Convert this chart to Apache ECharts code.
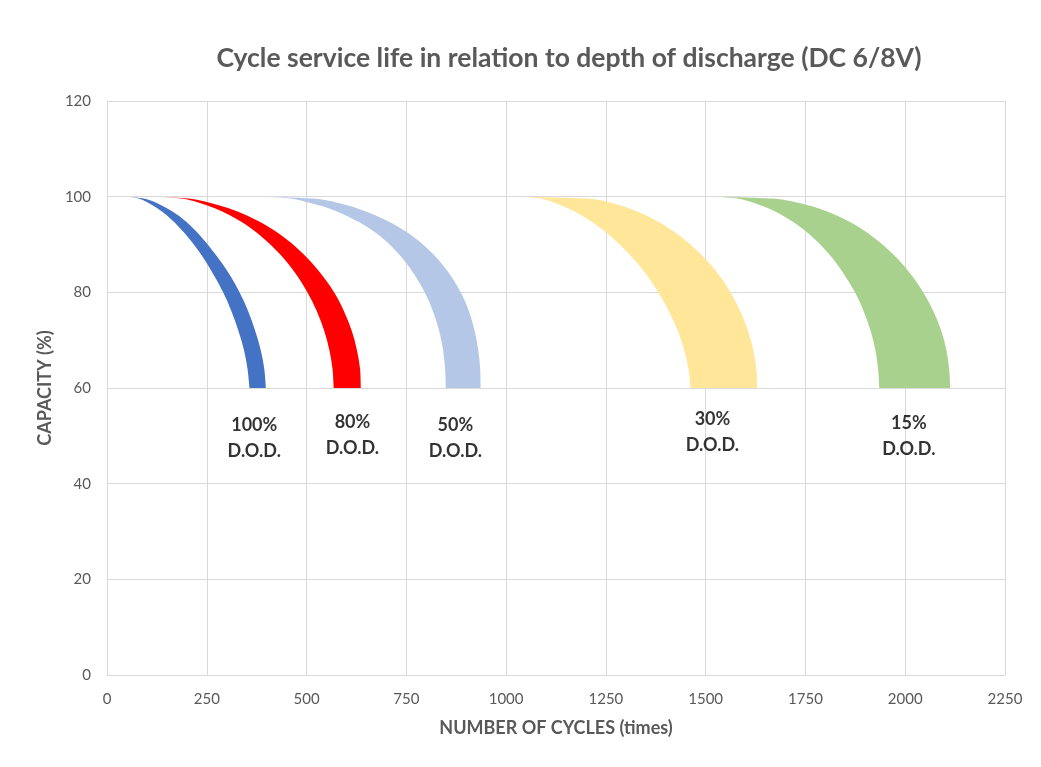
<!DOCTYPE html>
<html><head><meta charset="utf-8">
<script src="https://cdn.jsdelivr.net/npm/echarts@6/dist/echarts.min.js"></script>
<style>html,body{margin:0;padding:0;background:#fff}#c{width:1041px;height:767px}</style>
</head><body><div id="c"></div>
<script>
// Capacity levels (%) at which each band edge is sampled
const capacityLevels = [100, 99.6, 98.8, 97.6, 96, 94, 91.2, 88, 84, 80, 76, 72, 68, 64, 60];
// Number of cycles along outer (right) and inner (left) edges of each band
const dod100Outer = [57, 92, 122, 150, 180, 208, 240, 271, 305, 332, 354, 371, 385, 394, 398];
const dod100Inner = [57, 80, 102, 126, 151, 176, 206, 235, 265, 291, 312, 329, 343, 352, 357];
const dod80Outer  = [133, 204, 255, 305, 352, 398, 448, 492, 535, 569, 594, 613, 626, 634, 636];
const dod80Inner  = [133, 187, 229, 270, 310, 350, 393, 433, 472, 502, 526, 544, 557, 565, 568];
const dod50Outer  = [401, 515, 575, 626, 675, 723, 774, 817, 857, 886, 907, 921, 930, 935, 936];
const dod50Inner  = [401, 460, 505, 555, 600, 645, 692, 731, 768, 796, 817, 832, 842, 847, 849];
const dod30Outer  = [1048, 1200, 1260, 1307, 1353, 1396, 1444, 1487, 1530, 1562, 1587, 1606, 1619, 1627, 1629];
const dod30Inner  = [1048, 1086, 1120, 1155, 1191, 1227, 1269, 1308, 1349, 1381, 1408, 1430, 1446, 1457, 1462];
const dod15Outer  = [1529, 1665, 1728, 1782, 1830, 1876, 1925, 1969, 2012, 2045, 2071, 2090, 2103, 2110, 2113];
const dod15Inner  = [1529, 1579, 1618, 1657, 1694, 1731, 1772, 1809, 1845, 1874, 1896, 1913, 1925, 1932, 1935];

// Labels
const labelTexts = ['100%\nD.O.D.', '80%\nD.O.D.', '50%\nD.O.D.', '30%\nD.O.D.', '15%\nD.O.D.'];
const labelX = [369, 615, 873, 1517, 2009];
const labelY = [49.6, 50.2, 49.5, 50.8, 50.0];

const xTicks = [0, 250, 500, 750, 1000, 1250, 1500, 1750, 2000, 2250];
const yTicks = [0, 20, 40, 60, 80, 100, 120];

const bands = [
  {name: '100% D.O.D.', outer: dod100Outer, inner: dod100Inner, color: '#4472C4'},
  {name: '80% D.O.D.',  outer: dod80Outer,  inner: dod80Inner,  color: '#FF0000'},
  {name: '50% D.O.D.',  outer: dod50Outer,  inner: dod50Inner,  color: '#B4C7E7'},
  {name: '30% D.O.D.',  outer: dod30Outer,  inner: dod30Inner,  color: '#FFE699'},
  {name: '15% D.O.D.',  outer: dod15Outer,  inner: dod15Inner,  color: '#A9D18E'}
];

const FONT = 'Lato';

// Smooth curve (Catmull-Rom -> cubic Bezier) through pixel points
function curveCmds(pts) {
  let d = '';
  const n = pts.length;
  for (let i = 0; i < n - 1; i++) {
    const p0 = pts[i > 0 ? i - 1 : i], p1 = pts[i], p2 = pts[i + 1], p3 = pts[i + 2 < n ? i + 2 : i + 1];
    const c1 = [p1[0] + (p2[0] - p0[0]) / 6, p1[1] + (p2[1] - p0[1]) / 6];
    const c2 = [p2[0] - (p3[0] - p1[0]) / 6, p2[1] - (p3[1] - p1[1]) / 6];
    d += 'C' + c1[0].toFixed(2) + ',' + c1[1].toFixed(2) + ' ' + c2[0].toFixed(2) + ',' + c2[1].toFixed(2) + ' ' + p2[0].toFixed(2) + ',' + p2[1].toFixed(2);
  }
  return d;
}

function bandSeries(b) {
  return {
    type: 'custom',
    name: b.name,
    coordinateSystem: 'cartesian2d',
    data: [[b.outer[0], capacityLevels[0]]],
    clip: true,
    renderItem: function (params, api) {
      const outer = capacityLevels.map((c, i) => api.coord([b.outer[i], c]));
      const inner = capacityLevels.map((c, i) => api.coord([b.inner[i], c])).reverse();
      const d = 'M' + outer[0][0] + ',' + outer[0][1] + curveCmds(outer) +
                'L' + inner[0][0] + ',' + inner[0][1] + curveCmds(inner) + 'Z';
      return {type: 'path', shape: {pathData: d}, style: {fill: b.color, stroke: null}};
    },
    z: 2
  };
}

const chart = echarts.init(document.getElementById('c'), null, {renderer: 'canvas'});
chart.setOption({
  backgroundColor: '#ffffff',
  animation: false,
  title: {
    text: 'Cycle service life in relation to depth of discharge (DC 6/8V)',
    left: 564, top: 40, textAlign: 'center',
    textStyle: {fontFamily: FONT, fontSize: 26.5, fontWeight: 'bold', color: '#595959'}
  },
  grid: {left: 107, right: 36, top: 101, bottom: 92},
  xAxis: {
    type: 'value', min: xTicks[0], max: xTicks[xTicks.length - 1], interval: 250,
    name: 'NUMBER OF CYCLES (times)', nameLocation: 'middle', nameGap: 44,
    nameTextStyle: {fontFamily: FONT, fontSize: 18, fontWeight: 'bold', color: '#595959'},
    axisLine: {show: true, lineStyle: {color: '#d9d9d9'}},
    axisTick: {show: false},
    axisLabel: {fontFamily: FONT, fontSize: 15, color: '#595959', margin: 17, formatter: v => String(v)},
    splitLine: {show: true, lineStyle: {color: '#d9d9d9', width: 1}}
  },
  yAxis: {
    type: 'value', min: yTicks[0], max: yTicks[yTicks.length - 1], interval: 20,
    name: 'CAPACITY (%)', nameLocation: 'middle', nameGap: 53, nameRotate: 90,
    nameTextStyle: {fontFamily: FONT, fontSize: 18, fontWeight: 'bold', color: '#595959'},
    axisLine: {show: true, lineStyle: {color: '#d9d9d9'}},
    axisTick: {show: false},
    axisLabel: {fontFamily: FONT, fontSize: 15, color: '#595959', margin: 16, formatter: v => String(v)},
    splitLine: {show: true, lineStyle: {color: '#d9d9d9', width: 1}}
  },
  series: bands.map(bandSeries).concat([{
    type: 'scatter',
    symbolSize: 0,
    data: labelX.map((x, i) => ({value: [x, labelY[i]], name: labelTexts[i]})),
    label: {
      show: true, position: 'inside',
      formatter: p => p.name,
      fontFamily: FONT, fontSize: 18, fontWeight: 'bold', color: '#000', lineHeight: 26, align: 'center'
    },
    z: 3
  }])
});
</script>
</body></html>
